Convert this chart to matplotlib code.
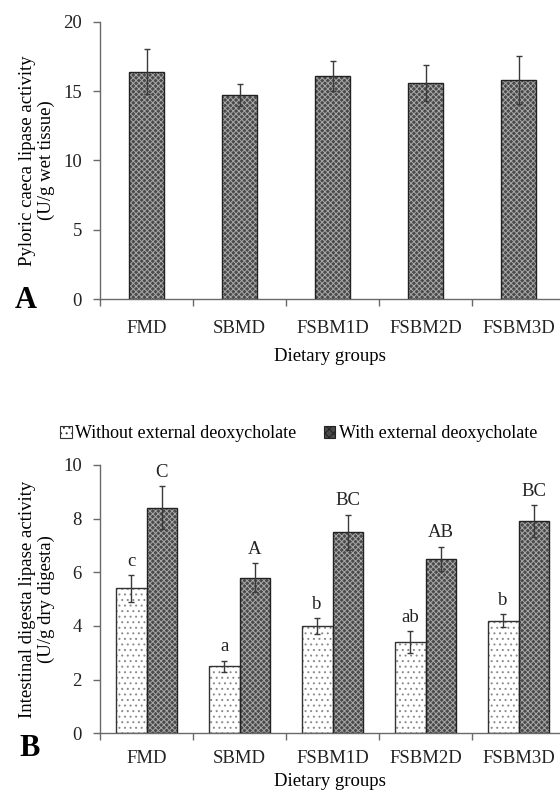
import numpy as np
import matplotlib
matplotlib.use("Agg")
import matplotlib.pyplot as plt
from matplotlib.patches import Patch

plt.rcParams['font.family'] = ['Liberation Serif', 'DejaVu Serif']
plt.rcParams['hatch.linewidth'] = 0.7

groups = ["FMD", "SBMD", "FSBM1D", "FSBM2D", "FSBM3D"]

# panel A - pyloric caeca
pc_mean = [16.4, 14.7, 16.1, 15.6, 15.8]
pc_err = [1.6, 0.8, 1.1, 1.3, 1.7]

# panel B - intestinal digesta
without_mean = [5.4, 2.5, 4.0, 3.4, 4.2]
without_err = [0.5, 0.2, 0.3, 0.4, 0.25]
with_mean = [8.4, 5.8, 7.5, 6.5, 7.9]
with_err = [0.8, 0.55, 0.65, 0.45, 0.6]
without_lab = ["c", "a", "b", "ab", "b"]
with_lab = ["C", "A", "BC", "AB", "BC"]

dark_face = '#4a4a4a'
dark_hatch = '#a8a8a8'
ecol = '#3a3a3a'
axcol = '#6a6a6a'
fs = 13.5

fig = plt.figure(figsize=(5.6, 7.96), dpi=100)
x = np.arange(len(groups))
xr = 4.5 - 5 / 93.0


def style_axes(ax, ymax, step, xpad):
    for s in ['top', 'right']:
        ax.spines[s].set_visible(False)
    for s in ['left', 'bottom']:
        ax.spines[s].set_color(axcol)
        ax.spines[s].set_linewidth(1.0)
    ax.set_xlim(-0.5, xr)
    ax.set_ylim(0, ymax)
    ax.set_yticks(np.arange(0, ymax + 0.01, step))
    ax.set_xticks(np.arange(-0.5, 4.0, 1.0))
    ax.set_xticklabels([])
    ax.set_xticks(x, minor=True)
    ax.set_xticklabels(groups, minor=True)
    ax.tick_params(axis='x', which='major', length=5, color=axcol, width=1)
    ax.tick_params(axis='x', which='minor', length=0, pad=xpad, labelsize=fs)
    ax.tick_params(axis='y', length=5, color=axcol, width=1, labelsize=fs, pad=8,
                   labelcolor='#222222')
    ax.tick_params(axis='x', labelcolor='#222222', which='both')


# ---- A ----
axA = fig.add_axes([100 / 560, 1 - 299 / 796, 460 / 560, (299 - 21.7) / 796])
w = 0.38
axA.bar(x, pc_mean, w, color=dark_face, edgecolor=dark_hatch, hatch='xxxxxx', lw=0, zorder=2)
axA.bar(x, pc_mean, w, fill=False, edgecolor='#222222', lw=1, zorder=3)
axA.errorbar(x, pc_mean, yerr=pc_err, fmt='none', ecolor=ecol, elinewidth=1,
             capsize=2.5, capthick=1, zorder=4)
style_axes(axA, 20, 5, 15)
axA.set_ylabel("Pyloric caeca lipase activity\n(U/g wet tissue)", fontsize=fs,
               labelpad=6, linespacing=1.1)
axA.set_xlabel("Dietary groups", fontsize=fs, labelpad=8)
fig.text(26 / 560, 1 - 300 / 796, "A", fontsize=22, fontweight='bold', ha='center', va='center')

# ---- B ----
axB = fig.add_axes([100 / 560, 1 - 733.3 / 796, 460 / 560, (733.3 - 465) / 796])
bw = 0.33
xa = x - bw / 2
xb = x + bw / 2
axB.bar(xa, without_mean, bw, color='white', edgecolor='#8a8a8a', hatch='...', lw=0, zorder=2)
axB.bar(xa, without_mean, bw, fill=False, edgecolor='#333333', lw=1, zorder=3)
axB.bar(xb, with_mean, bw, color=dark_face, edgecolor=dark_hatch, hatch='xxxxxx', lw=0, zorder=2)
axB.bar(xb, with_mean, bw, fill=False, edgecolor='#222222', lw=1, zorder=3)
axB.errorbar(xa, without_mean, yerr=without_err, fmt='none', ecolor=ecol, elinewidth=1,
             capsize=2.5, capthick=1, zorder=4)
axB.errorbar(xb, with_mean, yerr=with_err, fmt='none', ecolor=ecol, elinewidth=1,
             capsize=2.5, capthick=1, zorder=4)
for xi, m, e, t in zip(xa, without_mean, without_err, without_lab):
    axB.text(xi, m + e + 0.2, t, ha='center', va='bottom', fontsize=fs, color='#222222')
for xi, m, e, t in zip(xb, with_mean, with_err, with_lab):
    axB.text(xi, m + e + 0.2, t, ha='center', va='bottom', fontsize=fs, color='#222222')
style_axes(axB, 10, 2, 12)
axB.set_ylabel("Intestinal digesta lipase activity\n(U/g dry digesta)", fontsize=fs,
               labelpad=6, linespacing=1.1)
axB.set_xlabel("Dietary groups", fontsize=fs, labelpad=4)
fig.text(30 / 560, 1 - 748 / 796, "B", fontsize=22, fontweight='bold', ha='center', va='center')

handles = [Patch(facecolor='white', edgecolor='#333333', hatch='...', lw=0.8),
           Patch(facecolor=dark_face, edgecolor='#222222', hatch='xxxx', lw=0.8)]
fig.legend(handles, ["Without external deoxycholate", "With external deoxycholate"],
           loc='center left', bbox_to_anchor=(60 / 560, 1 - 434 / 796), ncol=2,
           frameon=False, fontsize=13, handlelength=0.65, handleheight=0.65,
           handletextpad=0.2, columnspacing=1.5, borderaxespad=0, borderpad=0)

fig.savefig("out.png", dpi=100)
